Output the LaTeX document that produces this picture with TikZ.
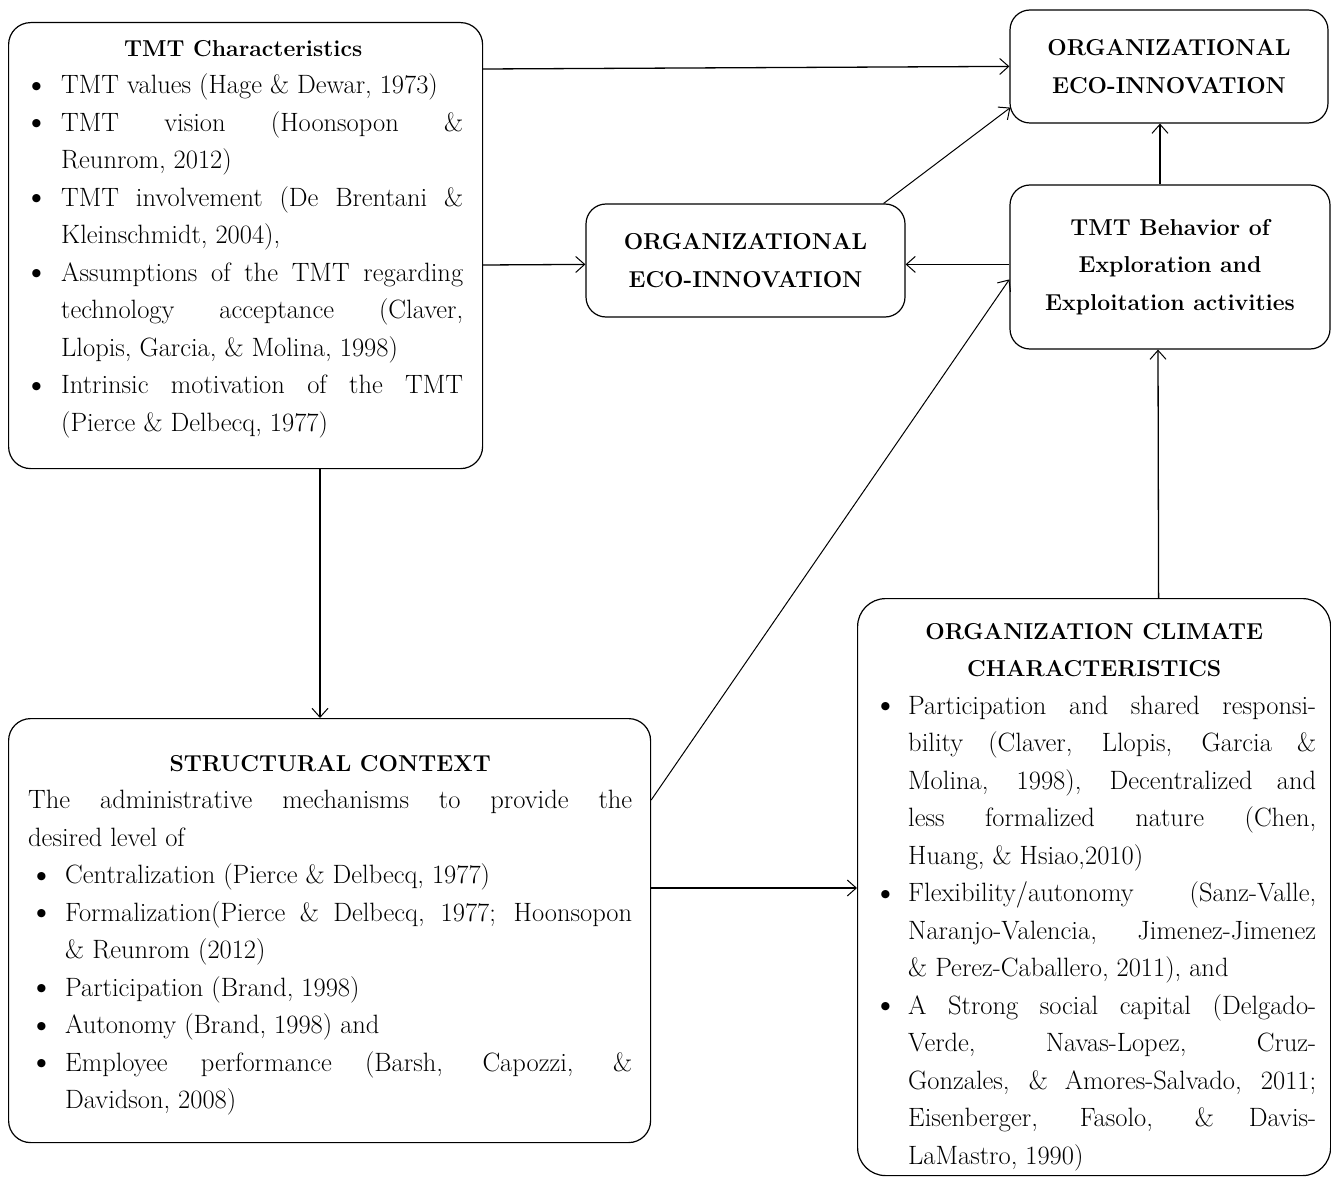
\documentclass[tikz,border=0pt]{standalone}
\usetikzlibrary{arrows.meta,calc}
\newlength\myhang
\newcommand\myfs{\fontsize{26.5}{37.5}\selectfont\parindent=0pt\tolerance=9999\hbadness=10000\hyphenpenalty=10000\emergencystretch=20pt\relax}
\newcommand\mybf{\fontsize{23}{37.5}\selectfont\bfseries}
\newcommand\mybullet{\raisebox{-2.3pt}{\scalebox{1.4}{\textbullet}}}
\newcommand\myitem[1]{\par\hangindent=\myhang\hangafter=1\noindent\makebox[\myhang][l]{\mybullet}#1\par}
\begin{document}
\begin{tikzpicture}[x=1pt,y=-1pt,
  box/.style={draw, line width=1.2pt, rounded corners=22pt, inner sep=0pt, anchor=north west},
  txt/.style={inner sep=0pt, anchor=north west, align=justify, font=\myfs},
  ttl/.style={draw, line width=1.2pt, rounded corners=20pt, inner sep=0pt, align=center, font=\mybf},
  arr/.style={line width=1.3pt, -{Straight Barb[length=9pt,width=16pt,line width=1pt]}},
  darr/.style={line width=1pt, -{Straight Barb[length=9pt,width=16pt,line width=1pt]}},
]
\useasboundingbox (0,0) rectangle (1331,1177);

% boxes
\node[box, minimum width=474pt, minimum height=446pt] (tmt) at (8,22) {};
\node[box, minimum width=642pt, minimum height=424pt] (struct) at (8,718) {};
\node[box, minimum width=473pt, minimum height=577pt, rounded corners=28pt] (clim) at (857,598) {};
\node[ttl, minimum width=318pt, minimum height=113pt] (ecoTop) at (1169,66.5) {ORGANIZATIONAL\\ECO-INNOVATION};
\node[ttl, minimum width=319pt, minimum height=113pt] (ecoMid) at (745.5,260.5) {ORGANIZATIONAL\\ECO-INNOVATION};
\node[ttl, minimum width=320pt, minimum height=164pt] (beh) at (1170,267) {TMT Behavior of\\Exploration and\\Exploitation activities};

% texts
\node[txt, text width=440pt] (tmtText) at (23,40) {\setlength\myhang{38pt}%
{\centering\mybf TMT Characteristics\par}
\myitem{TMT values (Hage \& Dewar, 1973)}
\myitem{TMT vision (Hoonsopon \&\linebreak Reunrom, 2012)}
\myitem{TMT involvement (De Brentani \&\linebreak Kleinschmidt, 2004),}
\myitem{Assumptions of the TMT regarding\linebreak technology acceptance (Claver,\linebreak Llopis, Garcia, \& Molina, 1998)}
\myitem{Intrinsic motivation of the TMT\linebreak (Pierce \& Delbecq, 1977)}};

\node[txt, text width=604pt] (structText) at (28,755) {\setlength\myhang{37pt}%
{\centering\mybf STRUCTURAL CONTEXT\par}
The administrative mechanisms to provide the\linebreak desired level of\par
\myitem{Centralization (Pierce \& Delbecq, 1977)}
\myitem{Formalization(Pierce \& Delbecq, 1977; Hoonsopon\linebreak \& Reunrom (2012)}
\myitem{Participation (Brand, 1998)}
\myitem{Autonomy (Brand, 1998) and}
\myitem{Employee performance (Barsh, Capozzi, \&\linebreak Davidson, 2008)}};

\node[txt, text width=444pt] (climText) at (872,623) {\setlength\myhang{36pt}%
{\centering\mybf ORGANIZATION CLIMATE\\CHARACTERISTICS\par}
\myitem{Participation and shared responsi-\linebreak bility (Claver, Llopis, Garcia \&\linebreak Molina, 1998), Decentralized and\linebreak less formalized nature (Chen,\linebreak Huang, \& Hsiao,2010)}
\myitem{Flexibility/autonomy (Sanz-Valle,\linebreak Naranjo-Valencia, Jimenez-Jimenez\linebreak \& Perez-Caballero, 2011), and}
\myitem{A Strong social capital (Delgado-\linebreak Verde, Navas-Lopez, Cruz-\linebreak Gonzales, \& Amores-Salvado, 2011;\linebreak Eisenberger, Fasolo, \& Davis-\linebreak LaMastro, 1990)}};

% connectors
\draw[arr] ($(tmt.north east)+(0,47)$) -- ($(ecoTop.north west)+(0,57)$);
\draw[arr] ($(tmt.north east)+(0,243)$) -- ($(ecoMid.north west)+(0,61)$);
\draw[arr] ($(beh.north west)+(0,80)$) -- ($(ecoMid.north east)+(0,61)$);
\draw[darr] ($(ecoMid.north east)+(-22,0)$) -- ($(ecoTop.south west)+(1,-16)$);
\draw[arr] ($(beh.north)+(-10,0)$) -- ($(ecoTop.south)+(-9,0)$);
\draw[arr] ($(clim.north)+(64.5,0)$) -- ($(beh.south)+(-12,0)$);
\draw[darr] ($(struct.north east)+(0,82)$) -- ($(beh.north west)+(0,95)$);
\draw[arr] ($(struct.north east)+(0,170)$) -- ($(clim.north west)+(0,290)$);
\draw[arr] ($(tmt.south west)+(312,0)$) -- ($(struct.north west)+(312,0)$);
\end{tikzpicture}
\end{document}
